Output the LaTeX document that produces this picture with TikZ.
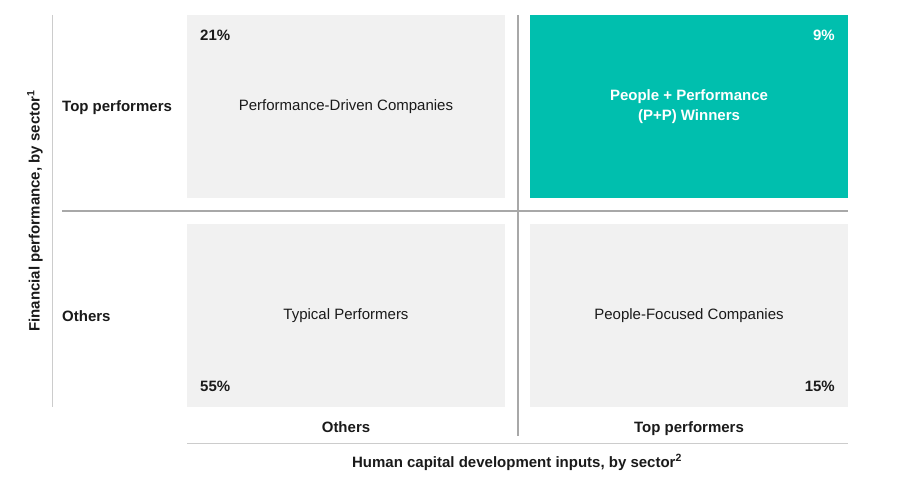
\documentclass[tikz,border=0pt]{standalone}
\usepackage{fontspec}
\setmainfont{Liberation Sans}
\definecolor{quadgray}{HTML}{F1F1F1}
\definecolor{ppteal}{HTML}{00BFAE}
\definecolor{axisgray}{HTML}{A8A8A8}
\definecolor{baselinegray}{HTML}{CCCCCC}
\definecolor{inkdark}{HTML}{1A1A1A}
\newcommand{\quadfont}[1]{\fontsize{15}{19}\selectfont{#1}}
\newcommand{\labfont}[1]{\fontsize{15}{19}\selectfont\bfseries{#1}}
\begin{document}
\begin{tikzpicture}[x=1pt,y=-1pt,
	quad/.style={fill=quadgray,draw=none,minimum width=318pt,minimum height=183pt,inner sep=0pt,text=inkdark,align=center},
	winner/.style={quad,fill=ppteal,text=white},
	pct/.style={inner sep=0pt,text=inkdark},
	axisline/.style={draw=axisgray,line width=1.6pt},
	every node/.style={font=\fontsize{15}{19}\selectfont}]
			\useasboundingbox (0,0) rectangle (899,486);
			%Quadrant centres
			\coordinate (cTL) at (346,106.5);
			\coordinate (cTR) at (689,106.5);
			\coordinate (cBL) at (346,315.5);
			\coordinate (cBR) at (689,315.5);
			%The four quadrants
			\node [quad] (pdc) at (cTL) {\quadfont{Performance-Driven Companies}};
			\node [winner] (ppw) at (cTR) {\labfont{People + Performance}\\[1pt]\labfont{(P+P) Winners}};
			\node [quad] (tp) at (cBL) {\quadfont{Typical Performers}};
			\node [quad] (pfc) at (cBR) {\quadfont{People-Focused Companies}};
			%Shares
			\node [pct,anchor=base west] (share21) at (200,41) {\labfont{21\%}};
			\node [pct,anchor=base east,text=white] (share9) at (835,41) {\labfont{9\%}};
			\node [pct,anchor=base west] (share55) at (200,391) {\labfont{55\%}};
			\node [pct,anchor=base east] (share15) at (835,391) {\labfont{15\%}};
			%Axis lines
			\coordinate (yTop) at (52,15);
			\coordinate (yBot) at (52,407);
			\coordinate (midL) at (62,211);
			\coordinate (midR) at (848,211);
			\coordinate (midT) at (518,15);
			\coordinate (midB) at (518,436);
			\coordinate (baseL) at (187,443);
			\coordinate (baseR) at (848,443);
			\draw [draw=baselinegray,line width=1pt] (yTop) -- (yBot);
			\draw [axisline] (midL) -- (midR);
			\draw [axisline] (midT) -- (midB);
			\draw [draw=baselinegray,line width=1pt] (baseL) -- (baseR);
			%Row labels
			\node [pct,anchor=base west] (rowTop) at (62,112) {\labfont{Top performers}};
			\node [pct,anchor=base west] (rowOth) at (62,321) {\labfont{Others}};
			%Column labels
			\node [pct,anchor=base] (colOth) at (346,432) {\labfont{Others}};
			\node [pct,anchor=base] (colTop) at (689,432) {\labfont{Top performers}};
			%Axis titles
			\node [pct,rotate=90] (yTitle) at (35,211) {\labfont{Financial performance, by sector\textsuperscript{1}}};
			\node [pct,anchor=base] (xTitle) at (517,467) {\labfont{Human capital development inputs, by sector\textsuperscript{2}}};
\end{tikzpicture}
\end{document}
